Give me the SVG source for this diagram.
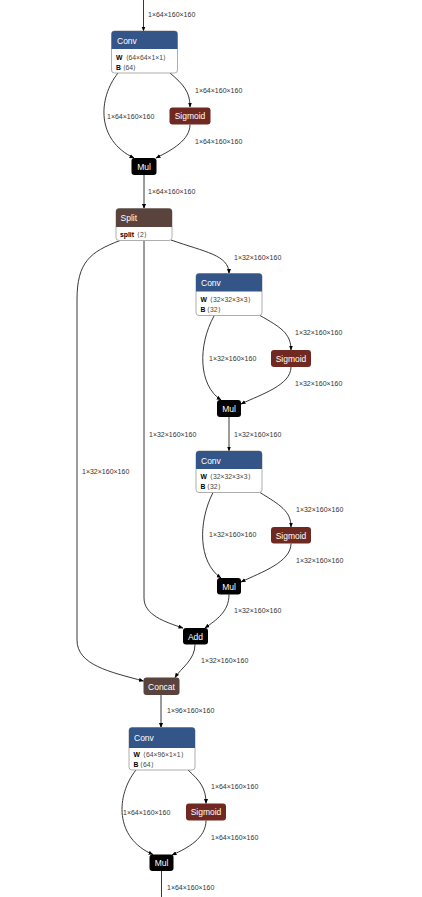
<svg xmlns="http://www.w3.org/2000/svg" width="422" height="897" viewBox="0 0 422 897">
<defs>
<marker id="arr" viewBox="0 0 10 10" refX="9" refY="5" markerWidth="5" markerHeight="5" orient="auto" markerUnits="userSpaceOnUse">
<path d="M0,1 L10,5 L0,9 Z" fill="#000"/>
</marker>
</defs>
<style>
.e{fill:none;stroke:#222;stroke-width:0.9;marker-end:url(#arr)}
.lbl{font-family:"Liberation Sans",Arial,sans-serif;font-size:7px;fill:#333}
.hdr{font-family:"Liberation Sans",Arial,sans-serif;font-size:8.5px;fill:#fff}
.ctr{text-anchor:middle}
.att{font-family:"Liberation Sans",Arial,sans-serif;font-size:6.8px;fill:#444}
.b{font-weight:bold;fill:#000}
.body{fill:#fff;stroke:#999;stroke-width:0.8}
.conv{fill:#335588}
.sig{fill:#702921}
.ten{fill:#5a433c}
.blk{fill:#000}
</style>
<rect width="422" height="897" fill="#fff"/>
<g id="edges">
<path class="e" d="M143.5,0 L143.5,31"/>
<path class="e" d="M118,73 C98,98 96,140 134,158"/>
<path class="e" d="M170,73 C184,85 190,92 190,107"/>
<path class="e" d="M190,124.5 C190,140 172,150 156,158"/>
<path class="e" d="M144,175 L144,208.5"/>
<path class="e" d="M120,240.5 C90,252 77,262 77,300 L77,640 C77,665 110,672 143.5,681"/>
<path class="e" d="M144,240.5 L144,598 C144,615 165,622 183,628"/>
<path class="e" d="M171,240 C205,252 229,255 229,273.5"/>
<path class="e" d="M214,316 C198,345 198,385 221,400"/>
<path class="e" d="M260,315.5 C280,327 291,333 291,350"/>
<path class="e" d="M291,367 C291,385 262,394 241,404"/>
<path class="e" d="M229,417 L229,451"/>
<path class="e" d="M213,492.5 C198,522 198,562 221,578"/>
<path class="e" d="M260,492.5 C280,505 291,511 291,527"/>
<path class="e" d="M291,543.5 C291,562 262,572 241,582"/>
<path class="e" d="M229,594.5 C229,612 216,620 205,628"/>
<path class="e" d="M195,644.5 C195,660 181,668 175,677.5"/>
<path class="e" d="M161,695 L161,727.5"/>
<path class="e" d="M136,770 C116,795 114,838 153,854.5"/>
<path class="e" d="M188,770 C200,781 206,788 206,803.5"/>
<path class="e" d="M206,820.5 C206,838 188,848 172,855"/>
<path class="e" d="M161.5,871 L161.5,897" style="marker-end:none"/>
</g>
<g id="labels">
<text class="lbl" x="148" y="16.5">1×64×160×160</text>
<text class="lbl" x="195" y="92.5">1×64×160×160</text>
<text class="lbl" x="107" y="118.5">1×64×160×160</text>
<text class="lbl" x="195" y="143.5">1×64×160×160</text>
<text class="lbl" x="148" y="193.5">1×64×160×160</text>
<text class="lbl" x="234" y="259.5">1×32×160×160</text>
<text class="lbl" x="295" y="334.5">1×32×160×160</text>
<text class="lbl" x="209" y="360.5">1×32×160×160</text>
<text class="lbl" x="295" y="385.5">1×32×160×160</text>
<text class="lbl" x="149" y="436.5">1×32×160×160</text>
<text class="lbl" x="234" y="436.5">1×32×160×160</text>
<text class="lbl" x="82" y="473.5">1×32×160×160</text>
<text class="lbl" x="296" y="511.5">1×32×160×160</text>
<text class="lbl" x="209" y="536.5">1×32×160×160</text>
<text class="lbl" x="296" y="562.5">1×32×160×160</text>
<text class="lbl" x="234" y="612.5">1×32×160×160</text>
<text class="lbl" x="201" y="662.5">1×32×160×160</text>
<text class="lbl" x="167" y="712.5">1×96×160×160</text>
<text class="lbl" x="211" y="788.5">1×64×160×160</text>
<text class="lbl" x="123" y="814.5">1×64×160×160</text>
<text class="lbl" x="211" y="839.5">1×64×160×160</text>
<text class="lbl" x="167" y="889.5">1×64×160×160</text>
</g>
<g id="conv1">
<rect class="body" x="111.5" y="31" width="66" height="42" rx="3"/>
<path class="conv" d="M111.5,49 L111.5,34 Q111.5,31 114.5,31 L174.5,31 Q177.5,31 177.5,34 L177.5,49 Z"/>
<text class="hdr" x="117" y="43.5">Conv</text>
<text class="att" x="116" y="59.5"><tspan class="b">W</tspan><tspan x="125.5">⟨64×64×1×1⟩</tspan></text>
<text class="att" x="116" y="69.5"><tspan class="b">B</tspan><tspan x="122.5">⟨64⟩</tspan></text>
</g>
<g id="sigmoid1">
<rect class="sig" x="169.5" y="107.5" width="41" height="17" rx="3"/>
<text class="hdr ctr" x="190" y="119">Sigmoid</text>
</g>
<g id="mul1">
<rect class="blk" x="131.5" y="158" width="25" height="17" rx="3"/>
<text class="hdr ctr" x="144" y="169.5">Mul</text>
</g>
<g id="split">
<rect class="body" x="116" y="208.5" width="56" height="32" rx="3"/>
<path class="ten" d="M116,227 L116,211.5 Q116,208.5 119,208.5 L169,208.5 Q172,208.5 172,211.5 L172,227 Z"/>
<text class="hdr" x="120.5" y="221">Split</text>
<text class="att" x="120" y="236.5"><tspan class="b">split</tspan><tspan x="137">⟨2⟩</tspan></text>
</g>
<g id="conv2">
<rect class="body" x="196" y="273.5" width="66" height="42" rx="3"/>
<path class="conv" d="M196,291.5 L196,276.5 Q196,273.5 199,273.5 L259,273.5 Q262,273.5 262,276.5 L262,291.5 Z"/>
<text class="hdr" x="201" y="286">Conv</text>
<text class="att" x="200.5" y="302"><tspan class="b">W</tspan><tspan x="210">⟨32×32×3×3⟩</tspan></text>
<text class="att" x="200.5" y="312"><tspan class="b">B</tspan><tspan x="207">⟨32⟩</tspan></text>
</g>
<g id="sigmoid2">
<rect class="sig" x="271" y="350" width="40" height="17" rx="3"/>
<text class="hdr ctr" x="291" y="361.5">Sigmoid</text>
</g>
<g id="mul2">
<rect class="blk" x="217" y="400" width="24" height="17" rx="3"/>
<text class="hdr ctr" x="229" y="411.5">Mul</text>
</g>
<g id="conv3">
<rect class="body" x="196" y="451" width="66" height="41.5" rx="3"/>
<path class="conv" d="M196,469 L196,454 Q196,451 199,451 L259,451 Q262,451 262,454 L262,469 Z"/>
<text class="hdr" x="201" y="463.5">Conv</text>
<text class="att" x="200.5" y="479"><tspan class="b">W</tspan><tspan x="210">⟨32×32×3×3⟩</tspan></text>
<text class="att" x="200.5" y="489"><tspan class="b">B</tspan><tspan x="207">⟨32⟩</tspan></text>
</g>
<g id="sigmoid3">
<rect class="sig" x="271" y="527" width="40" height="16.5" rx="3"/>
<text class="hdr ctr" x="291" y="538.5">Sigmoid</text>
</g>
<g id="mul3">
<rect class="blk" x="217" y="578" width="24" height="16.5" rx="3"/>
<text class="hdr ctr" x="229" y="589.5">Mul</text>
</g>
<g id="add">
<rect class="blk" x="183" y="628" width="25" height="16.5" rx="3"/>
<text class="hdr ctr" x="195.5" y="639.5">Add</text>
</g>
<g id="concat">
<rect class="ten" x="143.5" y="677.5" width="36" height="17.5" rx="3"/>
<text class="hdr ctr" x="161.5" y="689.5">Concat</text>
</g>
<g id="conv4">
<rect class="body" x="129" y="727.5" width="66" height="42.5" rx="3"/>
<path class="conv" d="M129,748 L129,730.5 Q129,727.5 132,727.5 L192,727.5 Q195,727.5 195,730.5 L195,748 Z"/>
<text class="hdr" x="134" y="741">Conv</text>
<text class="att" x="133.5" y="756.5"><tspan class="b">W</tspan><tspan x="143">⟨64×96×1×1⟩</tspan></text>
<text class="att" x="133.5" y="766.5"><tspan class="b">B</tspan><tspan x="140">⟨64⟩</tspan></text>
</g>
<g id="sigmoid4">
<rect class="sig" x="186" y="803.5" width="40" height="17" rx="3"/>
<text class="hdr ctr" x="206" y="815">Sigmoid</text>
</g>
<g id="mul4">
<rect class="blk" x="149.5" y="854.5" width="24" height="16.5" rx="3"/>
<text class="hdr ctr" x="161.5" y="866">Mul</text>
</g>
</svg>
